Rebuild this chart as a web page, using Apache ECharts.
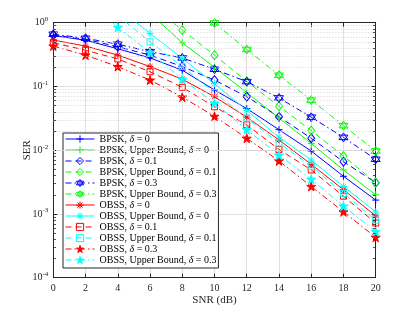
<!DOCTYPE html>
<html><head><meta charset="utf-8">
<script src="https://cdn.jsdelivr.net/npm/echarts@6/dist/echarts.min.js"></script>
<style>html,body{margin:0;padding:0;background:#fff}#c{width:415px;height:312px}</style>
</head><body><div id="c"></div>
<script>
var snr = [0,2,4,6,8,10,12,14,16,18,20];
var xTicks = [0,2,4,6,8,10,12,14,16,18,20];
var yTicks = [1e-4,1e-3,1e-2,1e-1,1];
var bpskD0   = [0.63,0.53,0.39,0.28,0.18,0.088,0.045,0.021,0.0097,0.0039,0.00165];
var bpskUbD0 = [null,null,null,1.4,0.485,0.2,0.08,0.032,0.0128,0.0049,0.002];
var bpskD1   = [0.64,0.55,0.42,0.31,0.205,0.126,0.069,0.0335,0.0154,0.0066,0.0031];
var bpskUbD1 = [null,null,null,1.9,0.77,0.31,0.12,0.049,0.0203,0.0081,0.0031];
var bpskD3   = [0.66,0.57,0.46,0.35,0.28,0.186,0.119,0.066,0.033,0.0159,0.0072];
var bpskUbD3 = [null,null,null,null,2.6,0.99,0.38,0.15,0.061,0.0243,0.0097];
var obssD0   = [0.535,0.43,0.31,0.205,0.13,0.069,0.033,0.0145,0.006,0.0024,0.00093];
var obssUbD0 = [null,null,1.7,0.68,0.276,0.11,0.042,0.016,0.007,0.0027,0.00108];
var obssD1   = [0.485,0.37,0.27,0.17,0.097,0.048,0.025,0.0103,0.0049,0.0019,0.00072];
var obssUbD1 = [null,null,1.3,0.5,0.205,0.08,0.032,0.013,0.0056,0.0021,0.0008];
var obssD3   = [0.43,0.31,0.205,0.126,0.068,0.034,0.0154,0.0068,0.0027,0.00108,0.00043];
var obssUbD3 = [null,2.2,0.85,0.34,0.13,0.055,0.021,0.0084,0.0035,0.00133,0.00053];

var BLUE='#0000ff', GREEN='#00ff00', RED='#ff0000', CYAN='#00ffff';
var FONT='"Liberation Serif","DejaVu Serif",serif';
var SOLID='solid', DASH=[6,4], DASHDOT=[6,3,1.5,3];
var PLUS='path://M5,0L5,10M0,5L10,5';
var AST='path://M5,0L5,10M0,5L10,5M1.5,1.5L8.5,8.5M8.5,1.5L1.5,8.5';
var HEX='path://M5,0L9.33,7.5L0.67,7.5Z M5,10L0.67,2.5L9.33,2.5Z';
var PENT='path://M5,0L6.18,3.62L10,3.62L6.91,5.86L8.09,9.5L5,7.25L1.91,9.5L3.09,5.86L0,3.62L3.82,3.62Z';
var CLEAR='rgba(255,255,255,0)';

function pairs(arr){ return snr.map(function(x,i){ return [x, arr[i]==null?'-':arr[i]]; }); }
var legendData = [];
function mk(name, arr, color, type, symbol, size, fill){
  var st = {color: fill?color:CLEAR, borderColor:color, borderWidth:1};
  legendData.push({name:name, itemStyle:st,
    lineStyle:{color:color, width:1, type:type}});
  return {
    name:name, type:'line', data:pairs(arr), clip:true, z:3,
    symbol:symbol, symbolSize:size, showSymbol:true,
    lineStyle:{color:color, width:1, type:type},
    itemStyle:st,
    emphasis:{disabled:true}, animation:false
  };
}
var series = [
  mk('BPSK, δ = 0', bpskD0, BLUE, SOLID, PLUS, 7, false),
  mk('BPSK, Upper Bound, δ = 0', bpskUbD0, GREEN, SOLID, PLUS, 7, false),
  mk('BPSK, δ = 0.1', bpskD1, BLUE, DASH, 'diamond', [7,9], false),
  mk('BPSK, Upper Bound, δ = 0.1', bpskUbD1, GREEN, DASH, 'diamond', [7,9], false),
  mk('BPSK, δ = 0.3', bpskD3, BLUE, DASHDOT, HEX, 9, false),
  mk('BPSK, Upper Bound, δ = 0.3', bpskUbD3, GREEN, DASHDOT, HEX, 9, false),
  mk('OBSS, δ = 0', obssD0, RED, SOLID, AST, 7, false),
  mk('OBSS, Upper Bound, δ = 0', obssUbD0, CYAN, SOLID, AST, 7, false),
  mk('OBSS, δ = 0.1', obssD1, RED, DASH, 'rect', 6, false),
  mk('OBSS, Upper Bound, δ = 0.1', obssUbD1, CYAN, DASH, 'rect', 6, false),
  mk('OBSS, δ = 0.3', obssD3, RED, DASHDOT, PENT, 9, true),
  mk('OBSS, Upper Bound, δ = 0.3', obssUbD3, CYAN, DASHDOT, PENT, 9, true)
];
// minor log grid lines and minor ticks
var minorGrid = [], minorTicks = [];
for (var d=-4; d<0; d++) for (var m=2; m<=9; m++) {
  var v = m*Math.pow(10,d);
  minorGrid.push({yAxis:v});
  minorTicks.push([{coord:[0,v]},{coord:[0.17,v]}]);
  minorTicks.push([{coord:[19.83,v]},{coord:[20,v]}]);
}
series.push({
  type:'line', data:[], z:1, silent:true, animation:false,
  markLine:{silent:true, symbol:['none','none'], label:{show:false}, animation:false,
    lineStyle:{color:'#d4d4d4', type:[1,2], width:1}, data:minorGrid}
});
series.push({
  type:'line', data:[], z:4, silent:true, animation:false,
  markLine:{silent:true, symbol:['none','none'], label:{show:false}, animation:false,
    lineStyle:{color:'#262626', type:'solid', width:0.8}, data:minorTicks}
});

var chart = echarts.init(document.getElementById('c'), null, {renderer:'canvas'});
var axisCommon = {
  axisLine:{show:true, onZero:false, lineStyle:{color:'#262626', width:1}},
  axisTick:{show:true, inside:true, length:4, lineStyle:{color:'#262626'}}
};
chart.setOption({
  backgroundColor:'#fff',
  animation:false,
  grid:{left:53.3, right:39.3, top:22.7, bottom:34.3, containLabel:false},
  xAxis:[
    Object.assign({type:'value', min:0, max:20, interval:2, position:'bottom',
      name:'SNR (dB)', nameLocation:'middle', nameGap:17, nameMoveOverlap:false,
      nameTextStyle:{fontFamily:FONT, fontSize:11, color:'#262626'},
      axisLabel:{fontFamily:FONT, fontSize:10, color:'#262626', margin:6},
      splitLine:{show:true, lineStyle:{color:'#dfdfdf', width:1}}}, axisCommon),
    Object.assign({type:'value', min:0, max:20, interval:2, position:'top',
      axisLabel:{show:false}, splitLine:{show:false}}, axisCommon)
  ],
  yAxis:[
    Object.assign({type:'log', logBase:10, min:1e-4, max:1, position:'left',
      name:'SER', nameLocation:'middle', nameGap:21, nameRotate:90, nameMoveOverlap:false,
      nameTextStyle:{fontFamily:FONT, fontSize:11, color:'#262626'},
      axisLabel:{fontFamily:FONT, fontSize:10, color:'#262626', margin:5,
        formatter:function(v){ var e=Math.round(Math.log10(v)); return '10{s|'+e+'}'; },
        rich:{s:{fontFamily:FONT, fontSize:7, color:'#262626', verticalAlign:'bottom', padding:[0,0,7,0]}}},
      splitLine:{show:true, lineStyle:{color:'#dfdfdf', width:1}}}, axisCommon),
    Object.assign({type:'log', logBase:10, min:1e-4, max:1, position:'right',
      axisLabel:{show:false}, splitLine:{show:false}}, axisCommon)
  ],
  legend:{
    orient:'vertical', left:63, top:133, padding:[1,2,3,2],
    itemWidth:29, itemHeight:9, itemGap:1.0,
    backgroundColor:'#fff', borderColor:'#262626', borderWidth:1, borderRadius:0,
    data: legendData,
    formatter:function(n){ return n.replace('δ','{i|δ}'); },
    textStyle:{fontFamily:FONT, fontSize:10, color:'#000', lineHeight:9,
      rich:{i:{fontFamily:FONT, fontSize:10, fontStyle:'italic', color:'#000', lineHeight:9}}},
    selectedMode:false
  },
  series: series
});
</script>
</body></html>
